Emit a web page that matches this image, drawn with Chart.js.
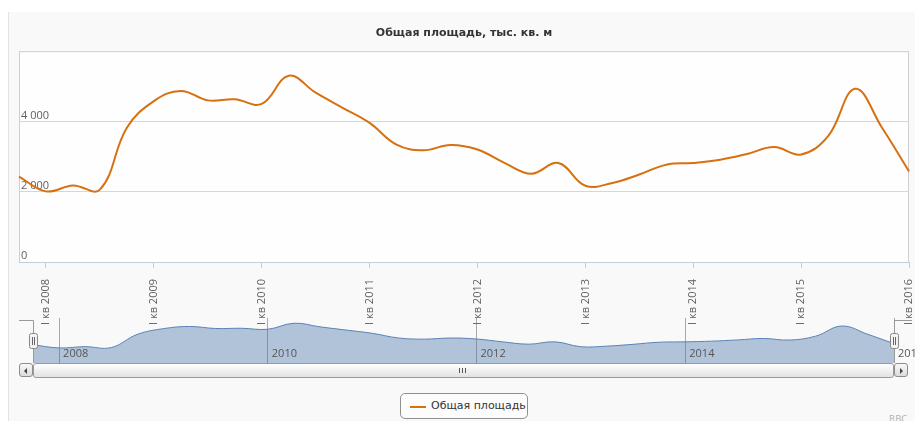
<!DOCTYPE html>
<html>
<head>
<meta charset="utf-8">
<script src="https://cdn.jsdelivr.net/npm/chart.js@4/dist/chart.umd.min.js"></script>
<style>
body { margin:0; background:#fff; width:915px; height:421px; overflow:hidden; position:relative; font-family:"DejaVu Sans", sans-serif; }
#panel { position:absolute; left:8px; top:12px; width:907px; height:409px; background:#f9f9f9; border-left:1px solid #e2e2e2; }
#nav { position:absolute; left:0; top:310px; }
#main { position:absolute; left:0; top:0; }
.btn { position:absolute; top:363px; width:14px; height:14px; border:1px solid #8c8c8c; border-radius:3px; background:linear-gradient(#f8f8f8, #dcdcdc); box-sizing:border-box; }
.btn span { position:absolute; top:4px; left:5px; width:0; height:0; border-top:3px solid transparent; border-bottom:3px solid transparent; }
#track { position:absolute; left:33px; top:363px; width:861px; height:15px; border:1px solid #9a9a9a; border-radius:3px; background:linear-gradient(#ffffff, #e2e2e2); box-sizing:border-box; }
#grip { position:absolute; left:425px; top:4px; width:7px; height:5px; border-left:1px solid #555; border-right:1px solid #555; box-sizing:border-box; }
#grip i { position:absolute; left:2px; top:0; width:1px; height:5px; background:#555; }
#legend { position:absolute; left:400px; top:393px; width:128px; height:26px; box-sizing:border-box; border:1px solid #909090; border-radius:5px; background:#fcfcfc; font-size:11px; color:#333; }
#legend b { position:absolute; left:9px; top:12px; width:16px; height:2px; background:#d7700f; }
#legend span { position:absolute; left:30px; top:5px; }
#credit { position:absolute; left:889px; top:414px; font-size:9px; color:#b5b5b5; }
</style>
</head>
<body>
<div id="panel"></div>
<canvas id="nav" width="915" height="60"></canvas>
<canvas id="main" width="915" height="330"></canvas>
<div class="btn" style="left:19px"><span style="border-right:3px solid #444;left:4px"></span></div>
<div id="track"><div id="grip"><i></i></div></div>
<div class="btn" style="left:894px"><span style="border-left:3px solid #444;left:5px"></span></div>
<div id="legend"><b></b><span>Общая площадь</span></div>
<div id="credit">RBC</div>
<script>
// quarters, IV 2007 .. I 2016
const categories = [
  'IV кв 2007',
  'I кв 2008', 'II кв 2008', 'III кв 2008', 'IV кв 2008',
  'I кв 2009', 'II кв 2009', 'III кв 2009', 'IV кв 2009',
  'I кв 2010', 'II кв 2010', 'III кв 2010', 'IV кв 2010',
  'I кв 2011', 'II кв 2011', 'III кв 2011', 'IV кв 2011',
  'I кв 2012', 'II кв 2012', 'III кв 2012', 'IV кв 2012',
  'I кв 2013', 'II кв 2013', 'III кв 2013', 'IV кв 2013',
  'I кв 2014', 'II кв 2014', 'III кв 2014', 'IV кв 2014',
  'I кв 2015', 'II кв 2015', 'III кв 2015', 'IV кв 2015',
  'I кв 2016'
];
// total area, thousand sq m
const area = [
  2430,
  2010, 2180, 2060, 3820,
  4580, 4870, 4600, 4630,
  4500, 5300, 4820, 4390,
  3960, 3340, 3180, 3330,
  3200, 2820, 2510, 2820,
  2170, 2250, 2490, 2770,
  2820, 2910, 3075, 3270,
  3060, 3580, 4930, 3820,
  2580
];
const yTicks = [0, 2000, 4000, 6000];
const seriesName = 'Общая площадь';
const titleText = 'Общая площадь, тыс. кв. м';

const lineColor = '#d7700f';
const fmt = v => String(v).replace(/\B(?=(\d{3})+(?!\d))/g, ' ');
const isFirstQ = i => categories[i].startsWith('I кв');
const navYears = categories.map((c, i) => isFirstQ(i) && +c.slice(-4) % 2 === 0 ? i : -1).filter(i => i >= 0);

const plotFrame = {
  id: 'plotFrame',
  beforeDraw(chart) {
    const a = chart.chartArea, ctx = chart.ctx;
    ctx.save();
    ctx.fillStyle = '#fefefe';
    ctx.fillRect(a.left, a.top, a.right - a.left, a.bottom - a.top);
    ctx.strokeStyle = '#cfcfcf';
    ctx.lineWidth = 1;
    ctx.strokeRect(a.left + 0.5, a.top + 0.5, a.right - a.left - 1, a.bottom - a.top);
    ctx.restore();
  }
};

new Chart(document.getElementById('main'), {
  type: 'line',
  data: {
    labels: categories,
    datasets: [{
      label: seriesName,
      data: area,
      borderColor: lineColor,
      borderWidth: 2,
      pointRadius: 0,
      tension: 0.4,
      fill: false
    }]
  },
  options: {
    responsive: false,
    animation: false,
    layout: { padding: { left: 19, right: 6, top: 0, bottom: 0 } },
    plugins: {
      legend: { display: false },
      tooltip: { enabled: false },
      title: {
        display: true,
        text: titleText,
        color: '#333',
        font: { family: 'DejaVu Sans', size: 11, weight: 'bold' },
        padding: { top: 27, bottom: 11 }
      }
    },
    scales: {
      x: {
        grid: {
          drawOnChartArea: false,
          tickLength: 6,
          color: c => isFirstQ(c.index) ? '#c0d0e0' : 'rgba(0,0,0,0)'
        },
        border: { color: '#c0d0e0' },
        ticks: {
          autoSkip: false,
          minRotation: 90,
          maxRotation: 90,
          padding: 11,
          color: '#606060',
          font: { family: 'Open Sans', size: 11 },
          callback: (v, i) => isFirstQ(i) ? categories[i] : ''
        },
        afterFit: s => { s.height = 68; s.paddingLeft = 0; s.paddingRight = 0; }
      },
      y: {
        min: yTicks[0],
        max: yTicks[yTicks.length - 1],
        afterBuildTicks: s => { s.ticks = yTicks.map(v => ({ value: v })); },
        grid: { color: '#d6d6d6', drawTicks: false },
        border: { display: false },
        ticks: {
          mirror: true,
          padding: 2,
          labelOffset: -6,
          color: '#606060',
          font: { family: 'Open Sans', size: 11 },
          callback: v => v === yTicks[yTicks.length - 1] ? '' : fmt(v)
        },
        afterFit: s => { s.width = 0; }
      }
    }
  },
  plugins: [plotFrame]
});

// navigator under the main chart
const navDecor = {
  id: 'navDecor',
  afterDatasetsDraw(chart) {
    const a = chart.chartArea, ctx = chart.ctx, xs = chart.scales.x;
    ctx.save();
    ctx.fillStyle = '#555';
    ctx.font = '11px "Open Sans"';
    ctx.textBaseline = 'middle';
    navYears.forEach(i => ctx.fillText(categories[i].slice(-4), xs.getPixelForValue(i) + 4, a.bottom - 9));
    // outline and handles
    ctx.strokeStyle = '#999';
    ctx.lineWidth = 1;
    ctx.beginPath();
    ctx.moveTo(19, a.top + 2.5); ctx.lineTo(a.left + 0.5, a.top + 2.5); ctx.lineTo(a.left + 0.5, a.bottom);
    ctx.moveTo(912, a.top + 2.5); ctx.lineTo(a.right + 0.5, a.top + 2.5); ctx.lineTo(a.right + 0.5, a.bottom);
    ctx.stroke();
    [a.left, a.right].forEach(x => {
      const hx = x - 4, hy = a.top + 15;
      ctx.beginPath();
      ctx.roundRect(hx + 0.5, hy + 0.5, 8, 15, 2);
      ctx.fillStyle = '#f2f2f2';
      ctx.fill();
      ctx.strokeStyle = '#888';
      ctx.stroke();
      ctx.beginPath();
      ctx.moveTo(hx + 3.5, hy + 4); ctx.lineTo(hx + 3.5, hy + 12);
      ctx.moveTo(hx + 5.5, hy + 4); ctx.lineTo(hx + 5.5, hy + 12);
      ctx.strokeStyle = '#666';
      ctx.stroke();
    });
    ctx.restore();
  }
};

new Chart(document.getElementById('nav'), {
  type: 'line',
  data: {
    labels: categories,
    datasets: [{
      data: area,
      fill: 'origin',
      backgroundColor: 'rgba(69,114,167,0.4)',
      borderColor: '#5b82b6',
      borderWidth: 1,
      pointRadius: 0,
      tension: 0.4
    }]
  },
  options: {
    responsive: false,
    animation: false,
    layout: { padding: { left: 33, right: 21, top: 8, bottom: 7 } },
    plugins: { legend: { display: false }, tooltip: { enabled: false } },
    scales: {
      x: {
        ticks: { display: false },
        grid: { drawTicks: false, color: c => navYears.includes(c.index) ? '#a8a8a8' : 'rgba(0,0,0,0)' },
        border: { display: false },
        afterFit: s => { s.height = 0; }
      },
      y: { display: false, min: yTicks[0], max: yTicks[yTicks.length - 1] }
    }
  },
  plugins: [navDecor]
});
</script>
</body>
</html>
